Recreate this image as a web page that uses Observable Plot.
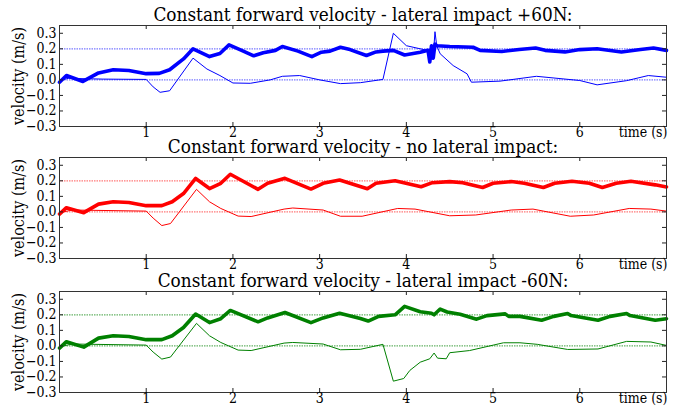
<!DOCTYPE html>
<html>
<head>
<meta charset="utf-8">
<script src="https://cdn.jsdelivr.net/npm/d3@7"></script>
<script src="https://cdn.jsdelivr.net/npm/@observablehq/plot@0.6"></script>
<style>
  html, body { margin: 0; padding: 0; background: white; }
  #wrap { position: relative; width: 683px; height: 408px; overflow: hidden; }
  #wrap svg { position: absolute; left: 0; }
</style>
</head>
<body>
<div id="wrap"></div>
<script>
// ---- data ----
const titles = [
  "Constant forward velocity - lateral impact +60N:",
  "Constant forward velocity - no lateral impact:",
  "Constant forward velocity - lateral impact -60N:"
];
const colors = ["#0000ff", "#ff0000", "#008000"];
const refColors = ["#7a7aff", "#ff7a7a", "#66b366"];
const xTicks = [1, 2, 3, 4, 5, 6];
const yTicks = [-0.3, -0.2, -0.1, 0.0, 0.1, 0.2, 0.3];
const refLevels = [0.0, 0.2];

// panel 1 : +60N
const t1Thick = [0, 0.08, 0.27, 0.45, 0.62, 0.8, 1.0, 1.15, 1.27, 1.43, 1.54, 1.73, 1.85, 1.955, 2.1, 2.24, 2.35, 2.49, 2.57, 2.75, 2.91, 3.02, 3.12, 3.24, 3.35, 3.54, 3.65, 3.73, 3.85, 3.98, 4.16, 4.25, 4.27, 4.29, 4.31, 4.33, 4.35, 4.5, 4.77, 4.85, 5.1, 5.3, 5.49, 5.6, 5.83, 6.0, 6.2, 6.48, 6.7, 6.85, 7.0];
const v1Thick = [-0.015, 0.028, -0.01, 0.045, 0.065, 0.06, 0.04, 0.042, 0.065, 0.135, 0.2, 0.15, 0.17, 0.225, 0.19, 0.155, 0.175, 0.19, 0.215, 0.185, 0.15, 0.178, 0.185, 0.21, 0.195, 0.157, 0.18, 0.185, 0.19, 0.16, 0.178, 0.19, 0.115, 0.22, 0.14, 0.23, 0.22, 0.215, 0.21, 0.19, 0.183, 0.195, 0.205, 0.19, 0.18, 0.195, 0.2, 0.18, 0.195, 0.205, 0.19];
const t1Thin = [0, 0.1, 0.5, 1.0, 1.08, 1.16, 1.27, 1.54, 1.70, 1.85, 2.0, 2.2, 2.43, 2.57, 2.77, 3.0, 3.24, 3.47, 3.73, 3.85, 4.0, 4.24, 4.3, 4.31, 4.33, 4.35, 4.39, 4.54, 4.70, 4.75, 5.08, 5.5, 6.0, 6.2, 6.54, 6.79, 7.0];
const v1Thin = [-0.005, 0.01, 0.005, 0.003, -0.045, -0.08, -0.07, 0.14, 0.07, 0.028, -0.02, -0.022, 0.0, 0.023, 0.028, 0.0, -0.024, -0.018, 0.003, 0.30, 0.22, 0.19, 0.2, 0.15, 0.31, 0.22, 0.168, 0.092, 0.039, -0.015, -0.008, 0.023, -0.004, -0.032, -0.005, 0.028, 0.017];

// panel 2 : no impact
const t2Thick = [0, 0.08, 0.28, 0.45, 0.62, 0.8, 1.0, 1.18, 1.3, 1.43, 1.57, 1.73, 1.86, 1.97, 2.29, 2.40, 2.60, 2.90, 3.04, 3.23, 3.55, 3.65, 3.87, 4.17, 4.30, 4.50, 4.65, 4.88, 5.0, 5.21, 5.36, 5.58, 5.71, 5.91, 6.11, 6.26, 6.42, 6.59, 6.87, 7.0];
const v2Thick = [-0.014, 0.027, -0.005, 0.05, 0.065, 0.06, 0.04, 0.04, 0.065, 0.118, 0.215, 0.15, 0.184, 0.242, 0.145, 0.184, 0.216, 0.147, 0.184, 0.205, 0.149, 0.184, 0.2, 0.162, 0.188, 0.195, 0.188, 0.157, 0.184, 0.195, 0.184, 0.157, 0.184, 0.197, 0.184, 0.157, 0.184, 0.197, 0.174, 0.16];
const t2Thin = [0, 0.15, 1.0, 1.08, 1.18, 1.28, 1.58, 1.73, 1.86, 2.06, 2.21, 2.59, 2.69, 3.04, 3.24, 3.49, 3.90, 4.10, 4.50, 4.80, 5.21, 5.46, 5.89, 6.16, 6.57, 6.82, 7.0];
const v2Thin = [-0.005, 0.012, 0.005, -0.04, -0.088, -0.075, 0.145, 0.065, 0.022, -0.027, -0.03, 0.018, 0.025, 0.012, -0.028, -0.028, 0.022, 0.018, -0.025, -0.02, 0.012, 0.018, -0.028, -0.02, 0.022, 0.018, 0.005];

// panel 3 : -60N
const t3Thick = [0, 0.08, 0.28, 0.45, 0.62, 0.8, 1.0, 1.18, 1.3, 1.43, 1.57, 1.73, 1.86, 1.97, 2.29, 2.40, 2.60, 2.90, 3.04, 3.23, 3.47, 3.56, 3.68, 3.87, 3.98, 4.16, 4.29, 4.32, 4.39, 4.47, 4.62, 4.81, 4.93, 5.14, 5.18, 5.31, 5.56, 5.70, 5.86, 5.90, 6.21, 6.35, 6.54, 6.58, 6.87, 7.0];
const v3Thick = [-0.014, 0.027, -0.008, 0.05, 0.065, 0.06, 0.04, 0.04, 0.065, 0.118, 0.205, 0.15, 0.175, 0.228, 0.155, 0.18, 0.215, 0.15, 0.18, 0.21, 0.176, 0.16, 0.19, 0.2, 0.254, 0.22, 0.21, 0.2, 0.237, 0.218, 0.203, 0.172, 0.195, 0.206, 0.19, 0.19, 0.165, 0.19, 0.208, 0.195, 0.165, 0.19, 0.208, 0.195, 0.165, 0.175];
const t3Thin = [0, 0.15, 1.0, 1.08, 1.18, 1.28, 1.58, 1.73, 1.86, 2.06, 2.21, 2.59, 2.69, 3.04, 3.24, 3.47, 3.73, 3.85, 3.97, 4.04, 4.16, 4.27, 4.32, 4.36, 4.46, 4.5, 4.73, 5.12, 5.31, 5.51, 5.86, 6.21, 6.54, 6.82, 7.0];
const v3Thin = [-0.005, 0.012, 0.005, -0.04, -0.085, -0.072, 0.145, 0.065, 0.022, -0.027, -0.03, 0.018, 0.022, 0.012, -0.025, -0.022, 0.01, -0.227, -0.21, -0.158, -0.105, -0.083, -0.046, -0.079, -0.083, -0.044, -0.03, 0.02, 0.02, 0.01, -0.023, -0.02, 0.029, 0.025, 0.003];

// ---- drawing ----
const FONT = "'DejaVu Serif Condensed', 'DejaVu Serif', serif";
const zip = (ts, vs) => ts.map((t, i) => ({t, v: vs[i]}));
const fmt = d => (d < 0 ? "\u2212" : "") + Math.abs(d).toFixed(1);

const panels = [
  {thick: zip(t1Thick, v1Thick), thin: zip(t1Thin, v1Thin), top: 0},
  {thick: zip(t2Thick, v2Thick), thin: zip(t2Thin, v2Thin), top: 132},
  {thick: zip(t3Thick, v3Thick), thin: zip(t3Thin, v3Thin), top: 266}
];

const W = 683, mL = 59, mR = 17, mT = 25, mB = 16, frameH = 101;
const frameW = W - mL - mR;
const tickLen = 4;
const wrap = document.getElementById("wrap");

panels.forEach((p, i) => {
  const c = colors[i];
  const svg = Plot.plot({
    width: W,
    height: mT + frameH + mB,
    marginLeft: mL, marginRight: mR, marginTop: mT, marginBottom: mB,
    style: {fontFamily: FONT, background: "transparent", overflow: "visible", color: "black"},
    x: {domain: [0, 7]},
    y: {domain: [-0.3, 0.35]},
    marks: [
      Plot.ruleY(refLevels, {stroke: refColors[i], strokeWidth: 1.2, strokeDasharray: "1.5,1"}),
      Plot.line(p.thin, {x: "t", y: "v", stroke: c, strokeWidth: 1}),
      Plot.line(p.thick, {x: "t", y: "v", stroke: c, strokeWidth: 3.6, strokeLinejoin: "round"}),
      // inward ticks on all four sides
      Plot.tickX(xTicks, {x: d => d, insetTop: frameH - tickLen, stroke: "#222"}),
      Plot.tickX(xTicks, {x: d => d, insetBottom: frameH - tickLen, stroke: "#222"}),
      Plot.tickY(yTicks, {y: d => d, insetRight: frameW - tickLen, stroke: "#222"}),
      Plot.tickY(yTicks, {y: d => d, insetLeft: frameW - tickLen, stroke: "#222"}),
      Plot.frame({stroke: "#333", strokeWidth: 1}),
      Plot.axisX(xTicks, {anchor: "bottom", tickSize: 0, tickPadding: 1, fontSize: 14, label: null, tickFormat: d => String(d)}),
      Plot.axisY(yTicks, {anchor: "left", tickSize: 0, tickPadding: 3, fontSize: 14, label: null, tickFormat: fmt}),
      Plot.text([titles[i]], {frameAnchor: "top", lineAnchor: "middle", dy: -11, fontSize: 18.8, fill: "black"}),
      Plot.text(["velocity (m/s)"], {frameAnchor: "left", textAnchor: "middle", rotate: -90, dx: -41, dy: 0, lineAnchor: "middle", fontSize: 16, fill: "black"}),
      Plot.text(["time (s)"], {frameAnchor: "bottom-right", textAnchor: "end", lineAnchor: "top", dy: 1, dx: 1, fontSize: 14, fill: "black"})
    ]
  });
  svg.style.top = p.top + "px";
  wrap.appendChild(svg);
});
</script>
</body>
</html>
